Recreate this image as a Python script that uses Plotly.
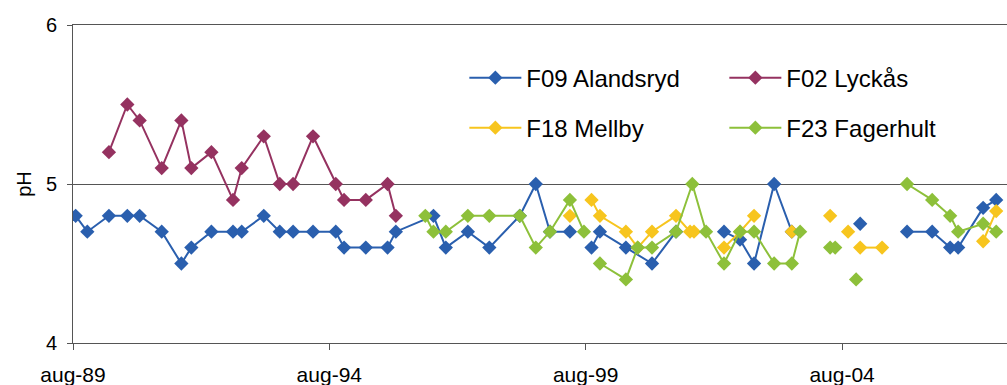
import plotly.graph_objects as go

# ---- data (None = break in the line) ----
f09_dates = ["1989-08-20", "1989-11-11", "1990-04-14", "1990-08-23", "1990-11-19", "1991-04-25",
             "1991-09-12", "1991-11-22", "1992-04-13", "1992-09-14", "1992-11-15", "1993-04-21",
             "1993-08-13", "1993-11-16", "1994-04-07", "1994-09-16", "1994-11-14", "1995-04-18",
             "1995-09-20", "1995-11-18", "1996-08-12", "1996-11-08", "1997-04-14", "1997-09-14",
             "1998-04-19", "1998-08-11", "1998-11-20", "1999-04-11", None,
             "1999-09-12", "1999-11-11", "2000-05-14", "2000-11-16", "2001-05-06", None,
             "2002-04-13", "2002-08-05", "2002-11-13", "2003-04-05", "2003-08-09", None,
             "2004-12-08", None,
             "2005-11-07", "2006-05-05", "2006-09-10", "2006-11-06", "2007-05-03", "2007-08-04"]
f09_ph = [4.8, 4.7, 4.8, 4.8, 4.8, 4.7,
          4.5, 4.6, 4.7, 4.7, 4.7, 4.8,
          4.7, 4.7, 4.7, 4.7, 4.6, 4.6,
          4.6, 4.7, 4.8, 4.6, 4.7, 4.6,
          4.8, 5.0, 4.7, 4.7, None,
          4.6, 4.7, 4.6, 4.5, 4.7, None,
          4.7, 4.65, 4.5, 5.0, 4.7, None,
          4.75, None,
          4.7, 4.7, 4.6, 4.6, 4.85, 4.9]

f02_dates = ["1990-04-14", "1990-08-23", "1990-11-19", "1991-04-25", "1991-09-12", "1991-11-22",
             "1992-04-13", "1992-09-14", "1992-11-15", "1993-04-21", "1993-08-13", "1993-11-16",
             "1994-04-07", "1994-09-16", "1994-11-14", "1995-04-18", "1995-09-20", "1995-11-18"]
f02_ph = [5.2, 5.5, 5.4, 5.1, 5.4, 5.1,
          5.2, 4.9, 5.1, 5.3, 5.0, 5.0,
          5.3, 5.0, 4.9, 4.9, 5.0, 4.8]

f18_dates = ["1999-04-11", None,
             "1999-09-12", "1999-11-11", "2000-05-14", "2000-08-06", "2000-11-16", "2001-05-06",
             "2001-08-14", "2001-09-11", None,
             "2002-04-13", "2002-08-05", "2002-11-13", None,
             "2003-08-09", None,
             "2004-05-08", None,
             "2004-09-13", None,
             "2004-12-08", "2005-05-13", None,
             "2007-05-03", "2007-08-04"]
f18_ph = [4.8, None,
          4.9, 4.8, 4.7, 4.6, 4.7, 4.8,
          4.7, 4.7, None,
          4.6, 4.7, 4.8, None,
          4.7, None,
          4.8, None,
          4.7, None,
          4.6, 4.6, None,
          4.64, 4.83]

f23_dates = ["1996-06-15", "1996-08-12", "1996-11-08", "1997-04-14", "1997-09-14", "1998-04-19",
             "1998-08-11", "1998-11-20", "1999-04-11", "1999-07-20", None,
             "1999-11-11", "2000-05-14", "2000-08-06", "2000-11-16", "2001-05-06", "2001-08-30",
             "2001-12-06", "2002-04-13", "2002-08-05", "2002-11-13", "2003-04-05", "2003-08-09",
             "2003-10-07", None,
             "2004-05-08", "2004-06-13", None,
             "2004-11-09", None,
             "2005-11-07", "2006-05-05", "2006-09-10", "2006-11-06", "2007-05-03", "2007-08-04"]
f23_ph = [4.8, 4.7, 4.7, 4.8, 4.8, 4.8,
          4.6, 4.7, 4.9, 4.7, None,
          4.5, 4.4, 4.6, 4.6, 4.7, 5.0,
          4.7, 4.5, 4.7, 4.7, 4.5, 4.5,
          4.7, None,
          4.6, 4.6, None,
          4.4, None,
          5.0, 4.9, 4.8, 4.7, 4.75, 4.7]

tick_dates = ["1989-08-01", "1994-08-01", "1999-08-01", "2004-08-01"]
tick_labels = ["aug-89", "aug-94", "aug-99", "aug-04"]

FONT = "Liberation Sans, Arial, sans-serif"

series = [
    ("F09 Alandsryd", f09_dates, f09_ph, "#2A5FAE", "legend"),
    ("F02 Lyckås", f02_dates, f02_ph, "#953260", "legend"),
    ("F18 Mellby", f18_dates, f18_ph, "#F7C51E", "legend2"),
    ("F23 Fagerhult", f23_dates, f23_ph, "#8DC03A", "legend2"),
]

fig = go.Figure()
for name, xs, ys, col, lg in series:
    fig.add_trace(go.Scatter(
        x=xs, y=ys, name=name, mode="lines+markers",
        line=dict(color=col, width=2),
        marker=dict(symbol="diamond", size=11, color=col),
        connectgaps=False, legend=lg,
    ))

legend_common = dict(
    orientation="h", xanchor="left", yanchor="middle",
    font=dict(family=FONT, size=24, color="black"),
    bgcolor="rgba(0,0,0,0)", borderwidth=0,
    entrywidth=193, entrywidthmode="pixels", itemwidth=52,
)

fig.update_layout(
    width=1007, height=385,
    margin=dict(l=73, r=0, t=25, b=42),
    paper_bgcolor="white", plot_bgcolor="white",
    font=dict(family=FONT, size=20, color="black"),
    showlegend=True,
    legend=dict(x=0.419, y=0.833, **legend_common),
    legend2=dict(x=0.419, y=0.676, **legend_common),
    xaxis=dict(
        type="date", range=["1989-08-01", "2007-10-20"], automargin=False,
        tickvals=tick_dates, ticktext=tick_labels,
        ticks="outside", ticklen=6, tickcolor="#555555", tickwidth=1,
        showline=True, linecolor="#555555", linewidth=1, mirror=True,
        showgrid=False, zeroline=False, ticklabelstandoff=7,
        tickfont=dict(family=FONT, size=21, color="black"),
    ),
    yaxis=dict(
        range=[4, 6], tickvals=[4, 5, 6], ticktext=["4", "5", "6"], automargin=False,
        ticks="outside", ticklen=5, tickcolor="#555555", tickwidth=1,
        showline=True, linecolor="#555555", linewidth=1,
        showgrid=True, gridcolor="#555555", gridwidth=1, zeroline=False,
        ticklabelstandoff=6,
        title=dict(text="pH", font=dict(family=FONT, size=20, color="black"), standoff=8),
        tickfont=dict(family=FONT, size=20, color="black"),
    ),
)

fig.write_html(
    "out.html",
    config={"displayModeBar": False},
    post_script="document.body.style.margin='0';document.body.style.overflow='hidden';",
)
